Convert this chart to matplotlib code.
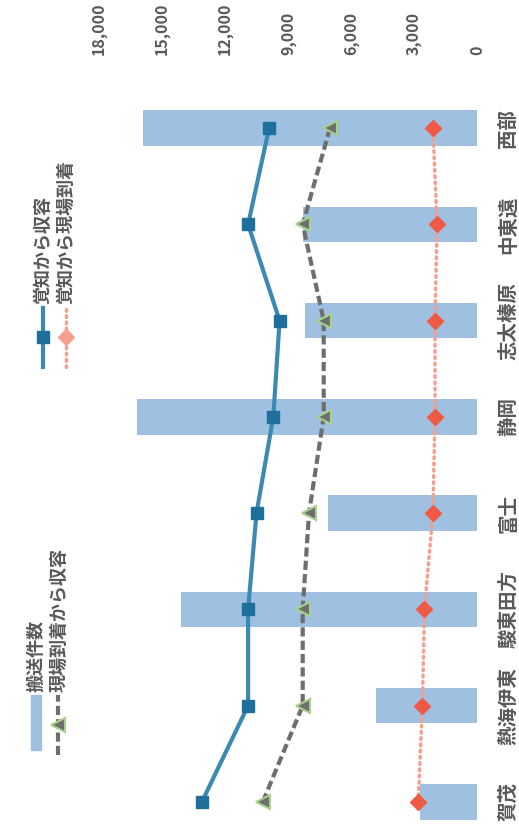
import numpy as np
import matplotlib.pyplot as plt
from matplotlib.lines import Line2D
from matplotlib.patches import Rectangle
from matplotlib.ticker import FuncFormatter

plt.rcParams['font.family'] = ['Noto Sans CJK JP', 'DejaVu Sans']

# データ(地域ごと)
areas = ['賀茂', '熱海伊東', '駿東田方', '富士', '静岡', '志太榛原', '中東遠', '西部']
hansou = [2700, 4800, 14100, 7100, 16200, 8200, 8300, 15900]          # 搬送件数
kakuchi_shuyou = [13100, 10900, 10900, 10500, 9700, 9400, 10900, 9900]  # 覚知から収容
genba_shuyou = [10200, 8300, 8300, 8000, 7300, 7300, 8300, 7000]       # 現場到着から収容
kakuchi_genba = [2800, 2600, 2500, 2100, 2000, 2000, 1900, 2100]       # 覚知から現場到着
ticks = [0, 3000, 6000, 9000, 12000, 15000, 18000]

W, H = 519, 835
gray = '#595959'
c_bar = '#9fc0e0'
c_blue = '#3b8ab3'
c_blue_m = '#1f6f9c'
c_gray = '#6e6e6e'
c_green = '#a9d18e'
c_red = '#ef5a44'
c_pink = '#f4a08e'

fig = plt.figure(figsize=(W / 100, H / 100), dpi=100)
# 図全体を90度回転した向きで描く
ax = fig.add_axes([99 / W, (H - 850) / H, 378 / W, 770 / H])

y = np.arange(len(areas))
ax.barh(y, hansou, height=0.37, color=c_bar, zorder=1)
ax.plot(kakuchi_shuyou, y, color=c_blue, lw=3, marker='s', ms=9,
        mfc=c_blue_m, mec=c_blue_m, zorder=3)
ax.plot(genba_shuyou, y, color=c_gray, lw=3, ls=(0, (2.2, 1)), marker='<', ms=10,
        mfc=c_gray, mec=c_green, mew=1.5, zorder=3)
ax.plot(kakuchi_genba, y, color=c_pink, lw=2.5, ls=(0, (0.5, 1.3)),
        dash_capstyle='round', marker='D', ms=8, mfc=c_red, mec=c_red, zorder=3)

ax.set_xlim(18000, 0)
ax.set_ylim(-0.5, len(areas) - 0.5)
ax.set_xticks(ticks)
ax.xaxis.set_major_formatter(FuncFormatter(lambda v, p: f'{int(v):,}'))
ax.xaxis.tick_top()
ax.tick_params(axis='x', length=0, pad=18, labelrotation=90, labelsize=11.5,
               labelcolor=gray)
for t in ax.get_xticklabels():
    t.set_fontweight('bold')

ax.yaxis.tick_right()
ax.set_yticks(y, areas)
ax.tick_params(axis='y', length=0, pad=16, labelsize=14, labelcolor=gray)
for t in ax.get_yticklabels():
    t.set_rotation(90)
    t.set_va('center')
    t.set_fontweight('bold')

for s in ax.spines.values():
    s.set_visible(False)


# 凡例(手作り、回転した向き)
def fx(px):
    return px / W


def fy(py):
    return 1 - py / H


fig.add_artist(Rectangle((fx(31), fy(750)), 10 / W, 55 / H, color=c_bar,
                         transform=fig.transFigure))
fig.text(fx(36), fy(692), '搬送件数', rotation=90, ha='center', va='bottom',
         fontsize=13, fontweight='bold', color=gray)

fig.add_artist(Line2D([fx(58), fx(58)], [fy(755), fy(695)], color=c_gray, lw=3,
                      ls=(0, (2.2, 1)), transform=fig.transFigure))
fig.add_artist(Line2D([fx(58)], [fy(725)], marker='<', ms=10, mfc=c_gray,
                      mec=c_green, mew=1.5, transform=fig.transFigure))
fig.text(fx(59), fy(692), '現場到着から収容', rotation=90, ha='center', va='bottom',
         fontsize=13, fontweight='bold', color=gray)

fig.add_artist(Line2D([fx(43), fx(43)], [fy(367), fy(308)], color=c_blue, lw=3,
                      marker='s', ms=9, markevery=[], transform=fig.transFigure))
fig.add_artist(Line2D([fx(43)], [fy(337)], marker='s', ms=9, mfc=c_blue_m,
                      mec=c_blue_m, transform=fig.transFigure))
fig.text(fx(43), fy(304), '覚知から収容', rotation=90, ha='center', va='bottom',
         fontsize=13, fontweight='bold', color=gray)

fig.add_artist(Line2D([fx(66), fx(66)], [fy(367), fy(308)], color=c_pink, lw=2.5,
                      ls=(0, (0.5, 1.3)), dash_capstyle='round',
                      transform=fig.transFigure))
fig.add_artist(Line2D([fx(66)], [fy(337)], marker='D', ms=8, mfc=c_pink,
                      mec=c_pink, transform=fig.transFigure))
fig.text(fx(66), fy(304), '覚知から現場到着', rotation=90, ha='center', va='bottom',
         fontsize=13, fontweight='bold', color=gray)

fig.savefig('out.png', dpi=100)
